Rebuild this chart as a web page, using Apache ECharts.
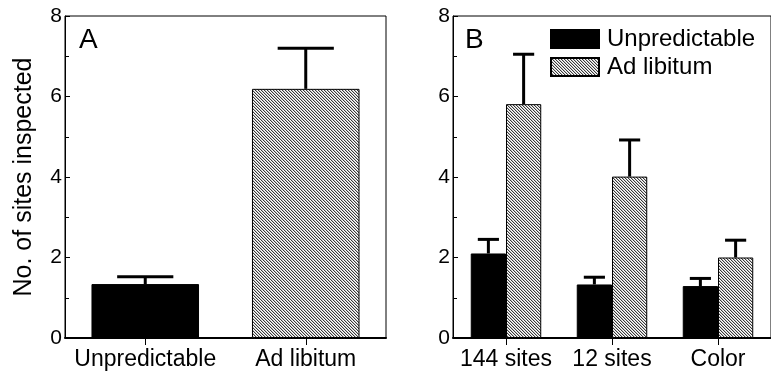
<!DOCTYPE html>
<html>
<head>
<meta charset="utf-8">
<script src="https://cdn.jsdelivr.net/npm/echarts@6/dist/echarts.min.js"></script>
<style>
  html, body { margin: 0; padding: 0; background: #fff; }
  #chart { width: 771px; height: 374px; }
</style>
</head>
<body>
<div id="chart"></div>
<script>
// Panel A: pooled means with standard errors
const catsA = ['Unpredictable', 'Ad libitum'];
const meanA = [1.34, 6.19];
const errA = [0.18, 1.01];

// Panel B: by task type
const catsB = ['144 sites', '12 sites', 'Color'];
const unpredB = [2.10, 1.33, 1.29];
const unpredErrB = [0.35, 0.18, 0.19];
const adlibB = [5.81, 4.01, 2.00];
const adlibErrB = [1.24, 0.91, 0.43];

const yTicks = [0, 2, 4, 6, 8];

// Fine diagonal hatch tile for the "Ad libitum" fill
function hatchTile() {
  const n = 3;
  const c = document.createElement('canvas');
  c.width = n; c.height = n;
  const g = c.getContext('2d');
  g.fillStyle = '#fff';
  g.fillRect(0, 0, n, n);
  for (let i = 0; i < n; i++) {
    g.fillStyle = '#3a3a3a';
    g.fillRect(i, i, 1, 1);
    g.fillStyle = '#c4c4c4';
    g.fillRect((i + 1) % n, i, 1, 1);
  }
  return c;
}
const hatch = { image: hatchTile(), repeat: 'repeat' };

const FONT = 'Liberation Sans, Arial, sans-serif';
const GAP_B = 0.335;

function yAxisCfg(gridIndex, withName) {
  const cfg = {
    type: 'value', gridIndex, min: yTicks[0], max: yTicks[yTicks.length - 1], interval: 2,
    axisLine: { show: true, lineStyle: { color: '#000', width: 1 } },
    axisTick: { show: true, inside: true, length: 5, lineStyle: { color: '#000', width: 1 } },
    minorTick: { show: true, splitNumber: 2, length: 4, lineStyle: { color: '#000', width: 1 } },
    splitLine: { show: false },
    axisLabel: { color: '#000', fontSize: 21, fontFamily: FONT, margin: 3 }
  };
  if (withName) {
    Object.assign(cfg, {
      name: 'No. of sites inspected', nameLocation: 'middle', nameGap: 28, nameRotate: 90,
      nameTextStyle: { color: '#000', fontSize: 25, fontFamily: FONT }
    });
  }
  return cfg;
}

function xAxisCfg(gridIndex, cats) {
  return {
    type: 'category', gridIndex, data: cats,
    axisLine: { show: true, lineStyle: { color: '#000', width: 2 } },
    axisTick: { show: true, alignWithLabel: true, length: 7, lineStyle: { color: '#000', width: 1 } },
    axisLabel: { color: '#000', fontSize: 23, fontFamily: FONT, margin: 10, interval: 0 }
  };
}

// Upward error bar with a horizontal cap
function errorRenderer(means, errs, offsetFrac, capFrac) {
  return function (params, api) {
    const i = api.value(0);
    const band = api.size([1, 0])[0];
    const top = api.coord([i, means[i] + errs[i]]);
    const base = api.coord([i, means[i]]);
    const x = top[0] + band * offsetFrac;
    const half = band * capFrac / 2;
    const style = { stroke: '#000', lineWidth: 3 };
    return {
      type: 'group',
      children: [
        { type: 'line', shape: { x1: x, y1: base[1], x2: x, y2: top[1] }, style },
        { type: 'line', shape: { x1: x - half, y1: top[1], x2: x + half, y2: top[1] }, style }
      ]
    };
  };
}

const barWB = (1 - GAP_B) / 2;

const option = {
  animation: false,
  backgroundColor: '#fff',
  textStyle: { fontFamily: FONT },
  grid: [
    { left: 65, top: 16, width: 321, height: 322, show: true, borderColor: '#000', borderWidth: 1 },
    { left: 453, top: 16, width: 320, height: 322, show: true, borderColor: '#000', borderWidth: 1 }
  ],
  xAxis: [xAxisCfg(0, catsA), xAxisCfg(1, catsB)],
  yAxis: [yAxisCfg(0, true), yAxisCfg(1, false)],
  legend: {
    data: ['Unpredictable', 'Ad libitum'],
    orient: 'vertical', left: 550, top: 27, padding: 0, itemGap: 4,
    itemWidth: 48, itemHeight: 18, icon: 'rect',
    textStyle: { color: '#000', fontSize: 24, fontFamily: FONT, padding: [0, 0, 0, 3] }
  },
  graphic: [
    { type: 'text', left: 79, top: 26, style: { text: 'A', fontSize: 28, fontFamily: FONT, fill: '#000' } },
    { type: 'text', left: 465, top: 26, style: { text: 'B', fontSize: 28, fontFamily: FONT, fill: '#000' } }
  ],
  series: [
    {
      name: 'Pooled', type: 'bar', xAxisIndex: 0, yAxisIndex: 0, barWidth: '67%',
      data: meanA.map((v, i) => ({
        value: v,
        itemStyle: i === 0
          ? { color: '#000', borderColor: '#000', borderWidth: 1 }
          : { color: hatch, borderColor: '#000', borderWidth: 1 }
      }))
    },
    {
      name: 'Pooled error', type: 'custom', xAxisIndex: 0, yAxisIndex: 0, z: 3,
      renderItem: errorRenderer(meanA, errA, 0, 0.35),
      data: meanA.map((v, i) => [i, v + errA[i]])
    },
    {
      name: 'Unpredictable', type: 'bar', xAxisIndex: 1, yAxisIndex: 1,
      barGap: '0%', barCategoryGap: (GAP_B * 100) + '%',
      itemStyle: { color: '#000', borderColor: '#000', borderWidth: 1 },
      data: unpredB
    },
    {
      name: 'Ad libitum', type: 'bar', xAxisIndex: 1, yAxisIndex: 1,
      barGap: '0%', barCategoryGap: (GAP_B * 100) + '%',
      itemStyle: { color: hatch, borderColor: '#000', borderWidth: 1 },
      data: adlibB
    },
    {
      name: 'Unpredictable error', type: 'custom', xAxisIndex: 1, yAxisIndex: 1, z: 3,
      renderItem: errorRenderer(unpredB, unpredErrB, -barWB / 2, barWB * 0.6),
      data: unpredB.map((v, i) => [i, v + unpredErrB[i]])
    },
    {
      name: 'Ad libitum error', type: 'custom', xAxisIndex: 1, yAxisIndex: 1, z: 3,
      renderItem: errorRenderer(adlibB, adlibErrB, barWB / 2, barWB * 0.6),
      data: adlibB.map((v, i) => [i, v + adlibErrB[i]])
    }
  ]
};

const chart = echarts.init(document.getElementById('chart'), null, { renderer: 'canvas' });
chart.setOption(option);
</script>
</body>
</html>
